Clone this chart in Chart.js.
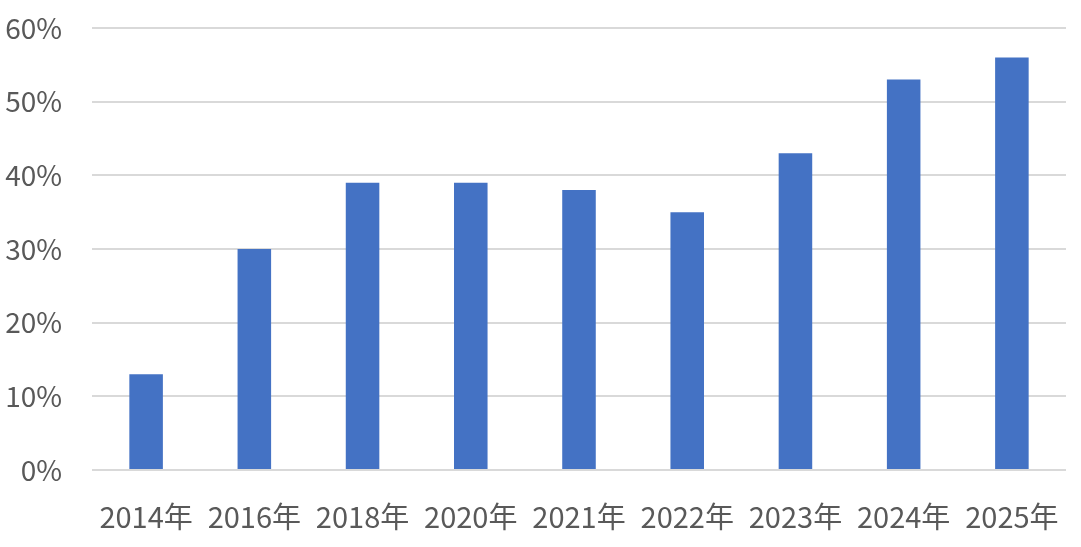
<!DOCTYPE html>
<html>
<head>
<meta charset="utf-8">
<script src="https://cdn.jsdelivr.net/npm/chart.js@4"></script>
<style>
  html, body { margin: 0; padding: 0; background: #fff; }
  #wrap { width: 1081px; height: 547px; }
</style>
</head>
<body>
<div id="wrap"><canvas id="id-chartShare"></canvas></div>
<script>
var categories = ["2014年", "2016年", "2018年", "2020年", "2021年", "2022年", "2023年", "2024年", "2025年"];
var shareValues = [0.13, 0.30, 0.39, 0.39, 0.38, 0.35, 0.43, 0.53, 0.56];
var yTicks = [0, 0.1, 0.2, 0.3, 0.4, 0.5, 0.6];

var barColor = "#4472C4";
var textColor = "#595959";
var gridColor = "#d9d9d9";
var fontFamily = "'Noto Sans CJK SC', 'Noto Sans', sans-serif";

// ----------------------------- chart start -----------------------------
new Chart("id-chartShare", {
  type: "bar",
  data: {
    labels: categories,
    datasets: [{
      backgroundColor: barColor,
      data: shareValues,
      categoryPercentage: 1,
      barPercentage: 0.31
    }]
  },
  options: {
    responsive: true,
    maintainAspectRatio: false,
    animation: false,
    layout: {padding: {left: 0, right: 15, top: 28, bottom: 0}},
    plugins: {
      legend: {display: false},
      tooltip: {enabled: false}
    },
    scales: {
      x: {
        afterFit: function(scale) {
          scale.height = 77;
          scale.paddingLeft = 0;
          scale.paddingRight = 0;
        },
        grid: {display: false, drawTicks: false},
        border: {display: false},
        ticks: {color: textColor, font: {family: fontFamily, size: 29}, padding: 30, maxRotation: 0}
      },
      y: {
        min: 0,
        max: 0.6,
        afterFit: function(scale) {
          scale.width = 92;
          scale.paddingTop = 0;
          scale.paddingBottom = 0;
        },
        afterBuildTicks: function(scale) {
          scale.ticks = yTicks.map(function(v) { return {value: v}; });
        },
        grid: {color: gridColor, lineWidth: 2, drawTicks: false},
        border: {display: false},
        ticks: {
          color: textColor,
          font: {family: fontFamily, size: 28},
          padding: 30,
          callback: function(v) { return Math.round(v * 100) + "%"; }
        }
      }
    }
  }
});
// ----------------------------- chart end -----------------------------
</script>
</body>
</html>
